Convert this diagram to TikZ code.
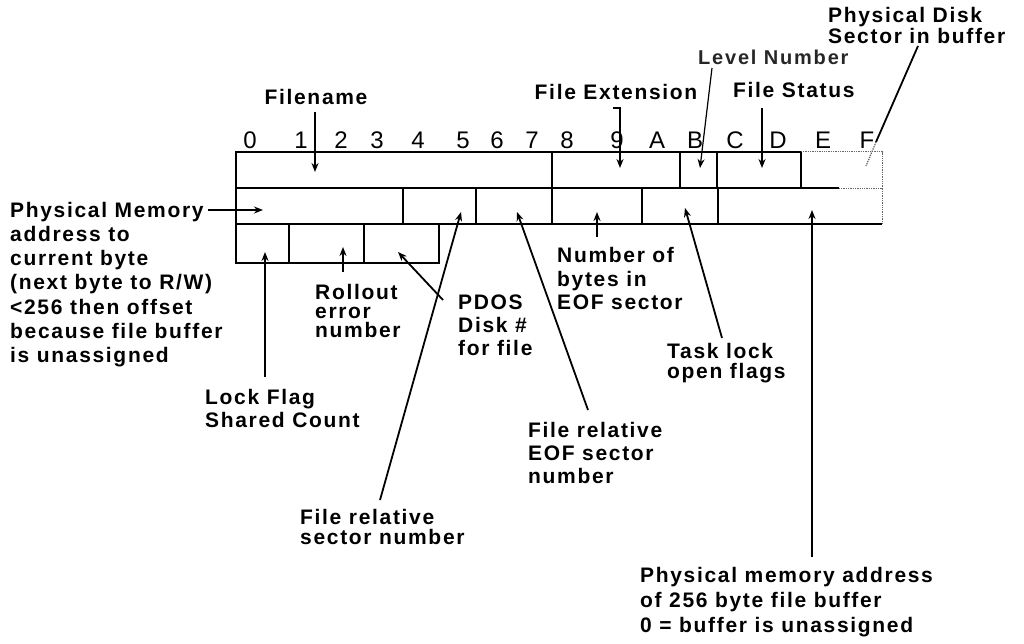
\documentclass[tikz,border=0pt]{standalone}
\usepackage{fontspec}
\setmainfont{Liberation Sans}
\newfontfamily\lblfont{Liberation Sans}[LetterSpace=8]
\newfontfamily\lightfont{Liberation Sans}[LetterSpace=9]
\usetikzlibrary{arrows.meta}
\begin{document}
\begin{tikzpicture}[x=1pt,y=-1pt,
  cell/.style={draw, line width=1.8pt, inner sep=0pt, minimum height=36pt},
  lbl/.style={inner sep=0pt, align=left, anchor=west, font=\lblfont\bfseries\fontsize{21}{#1}\selectfont},
  lbl/.default=24,
  lightlbl/.style={inner sep=0pt, align=left, anchor=west, font=\lightfont\bfseries\fontsize{20}{22}\selectfont, text=black!85},
  dig/.style={inner sep=0pt, font=\fontsize{24}{24}\selectfont},
  arr/.style={line width=1.8pt, -{Stealth[length=9pt,width=7pt]}},
  ln/.style={line width=1.8pt},
  dotl/.style={line width=1.3pt, densely dotted, black!60}]
\useasboundingbox (0,0) rectangle (1024,643);
% ---- byte index row
\foreach \d/\x in {0/250,1/301,2/341,3/377,4/418,5/463,6/497,7/532,8/567,9/617,A/657,B/695,C/735,D/778,E/823,F/867}
  \node[dig] (d\d) at (\x,140) {\d};
% ---- row 1
\node[cell, minimum width=316pt] (r1a) at (394,170) {};
\node[cell, minimum width=128pt] (r1b) at (616,170) {};
\node[cell, minimum width=37pt]  (r1c) at (698.5,170) {};
\node[cell, minimum width=84pt]  (r1d) at (759,170) {};
\node[inner sep=0pt, minimum width=81pt, minimum height=36pt] (r1e) at (841.5,170) {};
\draw[dotl] (r1e.north west) -- (r1e.north east) -- (r1e.south east);
\draw[ln] (r1e.south west) -- ([xshift=38pt]r1e.south west);
\draw[dotl] ([xshift=38pt]r1e.south west) -- (r1e.south east);
% ---- row 2
\node[cell, minimum width=167pt] (r2a) at (319.5,206) {};
\node[cell, minimum width=73pt]  (r2b) at (439.5,206) {};
\node[cell, minimum width=76pt]  (r2c) at (514,206) {};
\node[cell, minimum width=90pt]  (r2d) at (597,206) {};
\node[cell, minimum width=76pt]  (r2e) at (680,206) {};
\node[inner sep=0pt, minimum width=164pt, minimum height=36pt] (r2f) at (800,206) {};
\draw[ln] (r2f.north west) -- (r2f.south west) -- (r2f.south east);
\draw[dotl] (r2f.south east) -- (r2f.north east);
% ---- row 3
\node[cell, minimum width=53pt, minimum height=39pt] (r3a) at (262.5,243.5) {};
\node[cell, minimum width=75pt, minimum height=39pt] (r3b) at (326.5,243.5) {};
\node[cell, minimum width=75pt, minimum height=39pt] (r3c) at (401.5,243.5) {};
% ---- labels
\node[lbl, anchor=center] (Lfn) at (316,97) {Filename};
\node[lbl, anchor=center] (Lfe) at (616,92) {File Extension};
\node[lightlbl] (Llv) at (698,57) {Level Number};
\node[lbl] (Lfs) at (733,90) {File Status};
\node[lbl=21] (Lpd) at (828,25) {Physical Disk\\Sector in buffer};
\node[lbl=24.2] (Lpm) at (10,284.5) {Physical Memory\\address to\\current byte\\(next byte to R/W)\\<256 then offset\\because file buffer\\is unassigned};
\node[lbl=23] (Llk) at (205,408.5) {Lock Flag\\Shared Count};
\node[lbl=19] (Lro) at (315,311) {Rollout\\error\\number};
\node[lbl=23] (Lpdos) at (458,325) {PDOS\\Disk \#\\for file};
\node[lbl=23.5] (Lnb) at (557,278.5) {Number of\\bytes in\\EOF sector};
\node[lbl=20] (Ltl) at (667,363) {Task lock\\open flags};
\node[lbl=23] (Lfre) at (528,453) {File relative\\EOF sector\\number};
\node[lbl=20] (Lfrs) at (300,527) {File relative\\sector number};
\node[lbl=25] (Lpma) at (640,602) {Physical memory address\\of 256 byte file buffer\\0 = buffer is unassigned};
% ---- connector end points
\coordinate (tFn) at (315,112);  \coordinate (hFn) at (315,172);
\coordinate (tFe) at (620,108);  \coordinate (hFe) at (620,168);
\coordinate (tLv) at (712,68);   \coordinate (hLv) at (700,168);
\coordinate (tFs) at (762,108);  \coordinate (hFs) at (762,168);
\coordinate (tPd) at (918,46);   \coordinate (mPd) at (876,142); \coordinate (ePd) at (866,166);
\coordinate (tPm) at (208,210);  \coordinate (hPm) at (263,210);
\coordinate (tLk) at (265,377);  \coordinate (hLk) at (265,252);
\coordinate (tRo) at (343,272);  \coordinate (hRo) at (343,247);
\coordinate (tPdos) at (443,300); \coordinate (hPdos) at (398,252);
\coordinate (tFrs) at (380,500); \coordinate (hFrs) at (461,212);
\coordinate (tFre) at (588,410); \coordinate (hFre) at (517,212);
\coordinate (tNb) at (597,237);  \coordinate (hNb) at (597,212);
\coordinate (tTl) at (722,338);  \coordinate (hTl) at (685,208);
\coordinate (tPma) at (812,557); \coordinate (hPma) at (812,210);
% ---- connectors
\draw[arr] (tFn) -- (hFn);
\draw[arr] ([xshift=-7pt]tFe) -- (tFe) -- (hFe);
\draw[ln, line width=1.2pt, -{Stealth[length=9pt,width=7pt]}] (tLv) -- (hLv);
\draw[arr] (tFs) -- (hFs);
\draw[ln] (tPd) -- (mPd);
\draw[dotl] (mPd) -- (ePd);
\draw[arr] (tPm) -- (hPm);
\draw[arr] (tLk) -- (hLk);
\draw[arr] (tRo) -- (hRo);
\draw[arr] (tPdos) -- (hPdos);
\draw[arr] (tFrs) -- (hFrs);
\draw[arr] (tFre) -- (hFre);
\draw[arr] (tNb) -- (hNb);
\draw[arr] (tTl) -- (hTl);
\draw[arr] (tPma) -- (hPma);
\end{tikzpicture}
\end{document}
